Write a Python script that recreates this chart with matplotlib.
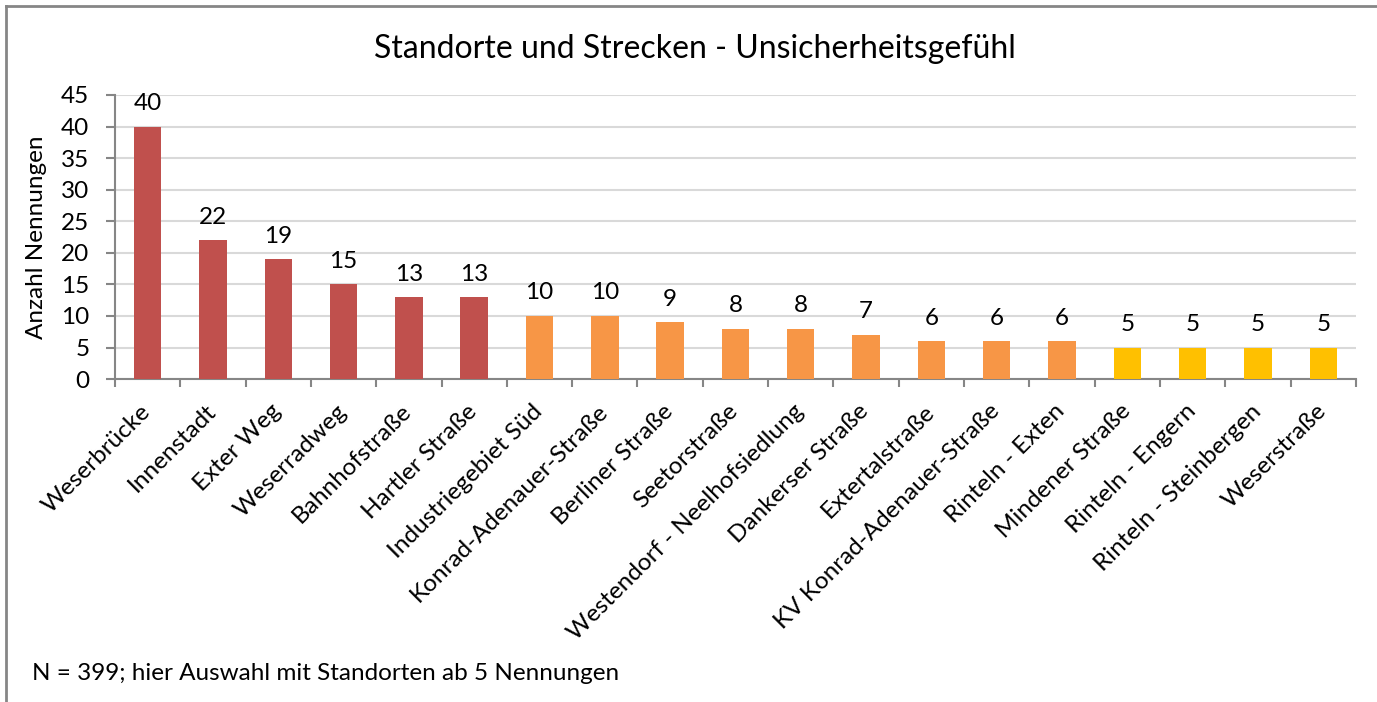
import matplotlib
matplotlib.use("Agg")
import matplotlib.pyplot as plt
from matplotlib.lines import Line2D
from matplotlib.transforms import ScaledTranslation

plt.rcParams['font.family'] = ['Lato', 'DejaVu Sans']

# data
locations = ['Weserbrücke', 'Innenstadt', 'Exter Weg', 'Weserradweg', 'Bahnhofstraße',
             'Hartler Straße', 'Industriegebiet Süd', 'Konrad-Adenauer-Straße', 'Berliner Straße',
             'Seetorstraße', 'Westendorf - Neelhofsiedlung', 'Dankerser Straße', 'Extertalstraße',
             'KV Konrad-Adenauer-Straße', 'Rinteln - Exten', 'Mindener Straße', 'Rinteln - Engern',
             'Rinteln - Steinbergen', 'Weserstraße']
counts = [40, 22, 19, 15, 13, 13, 10, 10, 9, 8, 8, 7, 6, 6, 6, 5, 5, 5, 5]
groups = ['high'] * 6 + ['mid'] * 9 + ['low'] * 4

group_colors = {'high': '#C0504D', 'mid': '#F79646', 'low': '#FFC000'}
colors = [group_colors[g] for g in groups]

fs = 17.5

fig = plt.figure(figsize=(13.77, 7.02), dpi=100)
ax = fig.add_axes([0.0835, 0.46, 0.9012, 0.4047])

x = range(len(locations))
bars = ax.bar(x, counts, width=0.42, color=colors, zorder=3)

for i, v in enumerate(counts):
    ax.annotate(str(v), xy=(i, v), xytext=(0, 9), textcoords='offset points',
                ha='center', va='bottom', fontsize=fs, color='black')

ax.set_xlim(-0.5, len(locations) - 0.5)
ax.set_ylim(0, 45)
ax.set_yticks(range(0, 46, 5))
ax.tick_params(axis='y', labelsize=fs, length=6.5, width=1.5, color='#868686', pad=12)
ax.yaxis.grid(True, color='#D9D9D9', linewidth=1.5, zorder=0)

# category ticks sit on the boundaries, labels at the centers
ax.set_xticks([i - 0.5 for i in range(len(locations) + 1)])
ax.set_xticklabels([])
ax.tick_params(axis='x', length=6, color='#868686', width=1.5)
ax.set_xticks(list(x), minor=True)
ax.set_xticklabels(locations, minor=True, rotation=45, ha='right', rotation_mode='anchor',
                   fontsize=fs)
ax.tick_params(axis='x', which='minor', length=0, pad=14)

# nudge the slanted labels so their upper end sits next to the category center
shift = ScaledTranslation(-0.08, -0.02, fig.dpi_scale_trans)
for lbl in ax.get_xticklabels(minor=True):
    lbl.set_transform(lbl.get_transform() + shift)

for side in ['top', 'right']:
    ax.spines[side].set_visible(False)
ax.spines['left'].set_color('#868686')
ax.spines['bottom'].set_color('#868686')
ax.spines['left'].set_linewidth(1.5)
ax.spines['bottom'].set_linewidth(1.5)

ax.set_ylabel('Anzahl Nennungen', fontsize=fs, labelpad=10)

fig.text(0.505, 0.93, 'Standorte und Strecken - Unsicherheitsgefühl', ha='center', va='center',
         fontsize=23)
fig.text(0.023, 0.04, 'N = 399; hier Auswahl mit Standorten ab 5 Nennungen', ha='left',
         va='center', fontsize=fs)

# chart frame (only top and left visible in the crop)
fig.add_artist(Line2D([0.004, 0.004], [0, 0.992], color='#868686', linewidth=2,
                      transform=fig.transFigure))
fig.add_artist(Line2D([0.004, 1.0], [0.992, 0.992], color='#868686', linewidth=2,
                      transform=fig.transFigure))

fig.savefig('out.png', dpi=100)
